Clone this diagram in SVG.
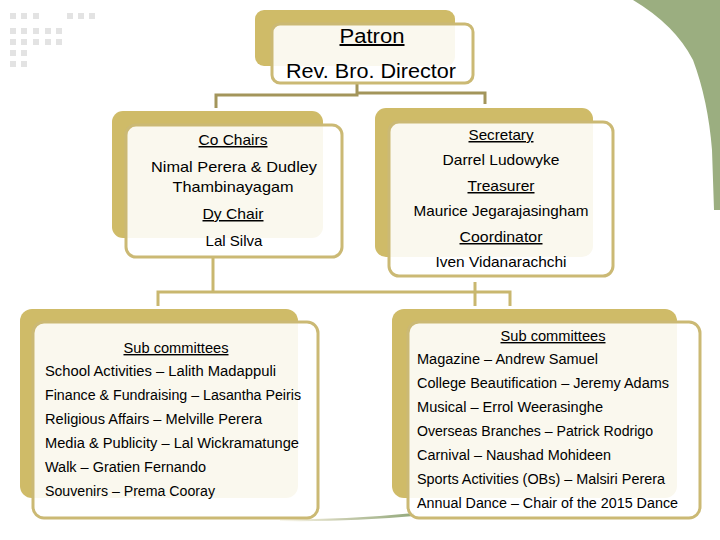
<svg xmlns="http://www.w3.org/2000/svg" width="720" height="540" viewBox="0 0 720 540">
<defs>
<style>
.shadow{fill:#cfbb68}
.card{fill:#ffffff;fill-opacity:0.89;stroke:#cbb974;stroke-width:3}
.t{font-family:"Liberation Sans",Arial,sans-serif;fill:#000}
.c{text-anchor:middle}
.u{text-decoration:underline}
.dot{fill:#e3e3e3}
.up{fill:none;stroke:#a3955b;stroke-width:3}
.lo{fill:none;stroke:#c9b76f;stroke-width:3}
</style>
<linearGradient id="stripe" x1="0" y1="0" x2="1" y2="0">
<stop offset="0" stop-color="#e0d9b0" stop-opacity="0.2"/>
<stop offset="0.45" stop-color="#c9cdb0"/>
<stop offset="1" stop-color="#93a97c"/>
</linearGradient>
</defs>
<rect width="720" height="540" fill="#ffffff"/>
<path d="M633,0 Q675,25 693,60 Q708,100 712,150 L714,210 L720,210 L720,0 Z" fill="#9bae80"/>
<g id="dots">
<rect class="dot" x="10" y="13" width="6" height="6"/><rect class="dot" x="21" y="13" width="6" height="6"/><rect class="dot" x="33" y="13" width="6" height="6"/>
<rect class="dot" x="67" y="13" width="6" height="6"/><rect class="dot" x="78" y="13" width="6" height="6"/><rect class="dot" x="89" y="13" width="6" height="6"/>
<rect class="dot" x="10" y="28" width="6" height="6"/><rect class="dot" x="21" y="28" width="6" height="6"/><rect class="dot" x="33" y="28" width="6" height="6"/><rect class="dot" x="45" y="28" width="6" height="6"/><rect class="dot" x="56" y="28" width="6" height="6"/>
<rect class="dot" x="10" y="39" width="6" height="6"/><rect class="dot" x="21" y="39" width="6" height="6"/><rect class="dot" x="33" y="39" width="6" height="6"/><rect class="dot" x="45" y="39" width="6" height="6"/><rect class="dot" x="56" y="39" width="6" height="6"/>
<rect class="dot" x="10" y="50" width="6" height="6"/><rect class="dot" x="21" y="50" width="6" height="6"/>
<rect class="dot" x="10" y="61" width="6" height="6"/><rect class="dot" x="21" y="61" width="6" height="6"/>
</g>
<path d="M280,519.5 Q350,519.5 414,513 L414,516 Q350,522 280,521 Z" fill="url(#stripe)"/>
<g id="connectors">
<path class="up" d="M357,84 V95 H216 V108"/>
<path class="up" d="M357,93 H485 V104"/>
<path class="lo" d="M213,258 V292"/>
<path class="lo" d="M158,306 V292 H510 V306"/>
<path class="lo" d="M475,282 V306"/>
</g>
<g id="patron">
<rect class="shadow" x="255" y="10" width="200" height="56" rx="9"/>
<rect class="card" x="272" y="24" width="201" height="59" rx="8"/>
<text class="t c u" x="372" y="43" font-size="20" textLength="65" lengthAdjust="spacingAndGlyphs">Patron</text>
<text class="t c" x="371" y="78" font-size="20" textLength="170" lengthAdjust="spacingAndGlyphs">Rev. Bro. Director</text>
</g>
<g id="cochairs">
<rect class="shadow" x="112" y="111" width="211" height="127" rx="11"/>
<rect class="card" x="126" y="125" width="216" height="132" rx="10"/>
<text class="t c u" x="233" y="145" font-size="15" textLength="69" lengthAdjust="spacingAndGlyphs">Co Chairs</text>
<text class="t c" x="234" y="172" font-size="15" textLength="166" lengthAdjust="spacingAndGlyphs">Nimal Perera &amp; Dudley</text>
<text class="t c" x="233" y="192" font-size="15" textLength="121" lengthAdjust="spacingAndGlyphs">Thambinayagam</text>
<text class="t c u" x="233" y="219" font-size="15" textLength="61" lengthAdjust="spacingAndGlyphs">Dy Chair</text>
<text class="t c" x="234" y="246" font-size="15" textLength="57" lengthAdjust="spacingAndGlyphs">Lal Silva</text>
</g>
<g id="officers">
<rect class="shadow" x="375" y="108" width="218" height="149" rx="11"/>
<rect class="card" x="389" y="122" width="224" height="154" rx="10"/>
<text class="t c u" x="501" y="140" font-size="15" textLength="65" lengthAdjust="spacingAndGlyphs">Secretary</text>
<text class="t c" x="501" y="165" font-size="15" textLength="117" lengthAdjust="spacingAndGlyphs">Darrel Ludowyke</text>
<text class="t c u" x="501" y="191" font-size="15" textLength="67" lengthAdjust="spacingAndGlyphs">Treasurer</text>
<text class="t c" x="501" y="216" font-size="15" textLength="175" lengthAdjust="spacingAndGlyphs">Maurice Jegarajasingham</text>
<text class="t c u" x="501" y="242" font-size="15" textLength="83" lengthAdjust="spacingAndGlyphs">Coordinator</text>
<text class="t c" x="501" y="267" font-size="15" textLength="131" lengthAdjust="spacingAndGlyphs">Iven Vidanarachchi</text>
</g>
<g id="subcommittees-left">
<rect class="shadow" x="20" y="309" width="278" height="189" rx="12"/>
<rect class="card" x="33" y="322" width="285" height="196" rx="11"/>
<text class="t c u" x="176" y="353" font-size="14" textLength="105" lengthAdjust="spacingAndGlyphs">Sub committees</text>
<text class="t" x="45" y="376" font-size="14" textLength="231" lengthAdjust="spacingAndGlyphs">School Activities – Lalith Madappuli</text>
<text class="t" x="45" y="400" font-size="14" textLength="256" lengthAdjust="spacingAndGlyphs">Finance &amp; Fundraising – Lasantha Peiris</text>
<text class="t" x="45" y="424" font-size="14" textLength="217" lengthAdjust="spacingAndGlyphs">Religious Affairs – Melville Perera</text>
<text class="t" x="45" y="448" font-size="14" textLength="254" lengthAdjust="spacingAndGlyphs">Media &amp; Publicity – Lal Wickramatunge</text>
<text class="t" x="45" y="472" font-size="14" textLength="161" lengthAdjust="spacingAndGlyphs">Walk – Gratien Fernando</text>
<text class="t" x="45" y="496" font-size="14" textLength="170" lengthAdjust="spacingAndGlyphs">Souvenirs – Prema Cooray</text>
</g>
<g id="subcommittees-right">
<rect class="shadow" x="392" y="309" width="285" height="189" rx="12"/>
<rect class="card" x="408" y="322" width="292" height="196" rx="11"/>
<text class="t c u" x="553" y="341" font-size="14" textLength="105" lengthAdjust="spacingAndGlyphs">Sub committees</text>
<text class="t" x="417" y="364" font-size="14" textLength="181" lengthAdjust="spacingAndGlyphs">Magazine – Andrew Samuel</text>
<text class="t" x="417" y="388" font-size="14" textLength="252" lengthAdjust="spacingAndGlyphs">College Beautification – Jeremy Adams</text>
<text class="t" x="417" y="412" font-size="14" textLength="186" lengthAdjust="spacingAndGlyphs">Musical – Errol Weerasinghe</text>
<text class="t" x="417" y="436" font-size="14" textLength="236" lengthAdjust="spacingAndGlyphs">Overseas Branches – Patrick Rodrigo</text>
<text class="t" x="417" y="460" font-size="14" textLength="194" lengthAdjust="spacingAndGlyphs">Carnival – Naushad Mohideen</text>
<text class="t" x="417" y="484" font-size="14" textLength="248" lengthAdjust="spacingAndGlyphs">Sports Activities (OBs) – Malsiri Perera</text>
<text class="t" x="417" y="508" font-size="14" textLength="261" lengthAdjust="spacingAndGlyphs">Annual Dance – Chair of the 2015 Dance</text>
</g>
</svg>
